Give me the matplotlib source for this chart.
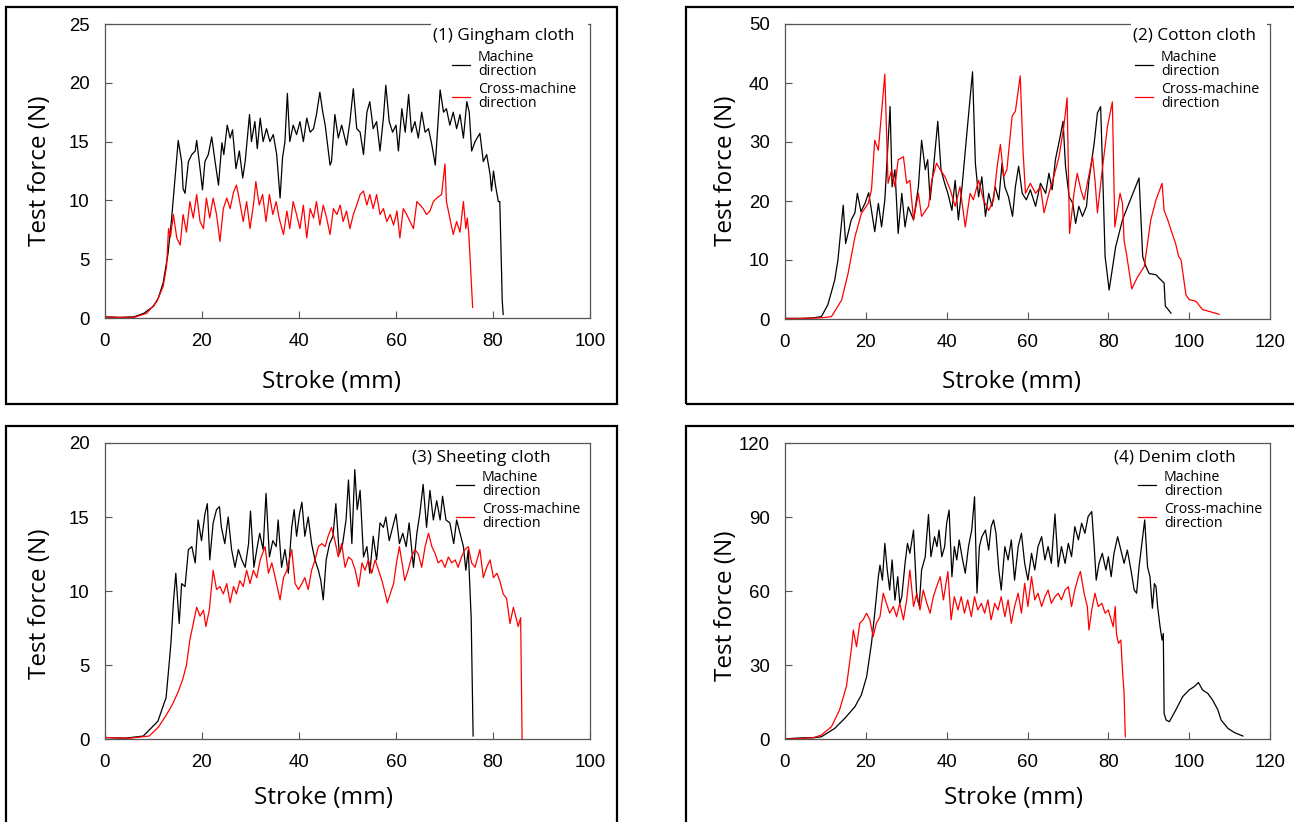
import numpy as np
import matplotlib
matplotlib.use("Agg")
import matplotlib.pyplot as plt
from matplotlib.patches import Rectangle

# ---------------- data (stroke mm, force N) ----------------
md1 = [(0,0.1),(3,0.05),(6,0.1),(8,0.4),(10,1.0),(11,1.7),(12,3.0),(13,5.5),(13.7,8.3),(14.4,11.7),
       (15.1,15.1),(15.8,13.3),(16.1,11.0),(16.5,10.6),(17.2,13.3),(17.9,13.9),(18.6,14.2),(18.9,15.1),
       (19.6,12.7),(20.1,10.9),(20.6,13.3),(21.3,13.9),(22.0,15.4),(22.7,13.3),(23.4,11.3),(24.1,14.9),
       (24.5,13.9),(25.2,16.4),(25.8,15.3),(26.3,16.0),(27.0,12.7),(27.7,14.2),(28.4,11.9),(28.9,13.3),
       (29.8,17.3),(30.2,15.0),(30.9,16.7),(31.4,14.4),(32.0,17.0),(32.6,15.0),(33.3,16.1),(34.0,15.0),
       (34.7,15.6),(35.4,13.9),(36.1,10.2),(36.6,13.6),(37.1,15.0),(37.6,19.1),(38.1,15.0),(38.8,16.4),
       (39.5,15.6),(40.2,16.7),(40.9,15.0),(41.6,17.0),(42.3,15.8),(43.0,16.1),(43.6,17.3),(44.3,19.2),
       (44.9,17.5),(45.4,16.4),(46.4,13.0),(46.7,13.3),(47.4,17.3),(48.1,15.3),(48.8,16.4),(49.8,14.7),
       (50.5,16.7),(51.2,19.5),(51.9,16.1),(52.6,15.8),(53.3,13.9),(54.0,17.5),(54.6,18.4),(55.3,16.1),
       (56.0,16.7),(56.7,14.2),(57.4,17.0),(57.9,19.8),(58.6,16.7),(59.3,15.8),(60.0,16.4),(60.5,14.2),
       (61.2,17.8),(61.9,15.8),(62.6,19.0),(63.2,15.8),(63.9,16.7),(64.6,15.3),(65.3,17.5),(66.0,15.8),
       (66.7,16.1),(67.4,14.7),(68.1,13.0),(69.1,19.4),(69.8,17.5),(70.4,17.8),(71.1,16.4),(71.8,17.5),
       (72.5,16.1),(73.2,17.3),(73.9,15.3),(74.6,18.4),(75.1,17.5),(75.6,14.2),(76.3,15.0),(77.3,15.7),
       (78.0,13.3),(78.7,13.9),(79.4,12.2),(79.7,10.8),(80.1,12.5),(80.5,11.3),(81.1,9.9),(81.4,9.9),
       (81.7,5.0),(81.9,1.5),(82.1,0.3)]
cd1 = [(0,0.1),(3,0.05),(6,0.05),(8.6,0.4),(10.7,1.4),(12.0,2.7),(12.7,4.4),(13.1,7.6),(13.5,6.9),
       (14.1,8.8),(14.8,6.8),(15.5,6.2),(16.1,8.8),(16.8,7.3),(17.5,9.9),(18.2,8.5),(18.9,10.5),(19.6,8.2),
       (20.3,7.6),(20.9,10.2),(21.6,8.5),(22.3,10.2),(23.0,8.8),(23.7,6.5),(24.4,9.3),(25.1,10.2),(25.8,9.3),
       (26.5,10.7),(27.1,11.3),(27.5,10.5),(27.9,9.6),(28.5,8.2),(29.2,9.9),(29.9,7.6),(30.6,9.6),(31.1,11.6),
       (31.8,9.6),(32.5,10.5),(33.2,8.2),(33.9,10.5),(34.6,8.8),(35.3,9.9),(35.9,8.5),(36.8,7.1),(37.5,9.1),
       (38.1,7.6),(38.8,9.9),(39.5,8.8),(40.2,7.6),(40.9,9.6),(41.6,6.8),(42.3,9.3),(43.0,8.5),(43.6,9.9),
       (44.3,7.9),(45.0,9.6),(45.7,8.5),(46.4,7.1),(47.1,9.3),(47.8,8.8),(48.5,9.6),(49.1,8.2),(49.8,9.1),
       (50.5,7.6),(51.2,8.8),(51.9,9.6),(52.6,10.5),(53.3,10.8),(54.0,9.6),(54.6,10.5),(55.3,9.3),(56.0,10.5),
       (56.7,8.8),(57.4,9.3),(58.1,8.2),(58.8,8.8),(59.5,7.9),(60.2,9.1),(60.8,6.8),(61.5,9.3),(62.2,8.8),
       (62.9,8.2),(63.6,7.6),(64.3,9.9),(65.0,9.6),(65.6,9.3),(66.3,8.8),(67.0,9.1),(67.7,9.9),(68.4,10.2),
       (69.4,10.5),(70.1,13.1),(70.4,9.9),(71.1,8.5),(71.8,7.1),(72.5,8.2),(73.2,7.3),(73.9,9.9),(74.4,7.6),
       (74.7,8.5),(75.0,7.2),(75.3,4.9),(75.8,0.9)]

md2 = [(0,0.1),(4,0.1),(7,0.2),(9.0,0.4),(10.6,2.4),(12.3,6.6),(13.1,10.0),(14.4,19.3),(15.0,12.8),
       (15.6,14.5),(16.4,16.8),(17.3,18.0),(17.9,21.3),(18.8,18.2),(19.8,19.6),(20.7,21.4),(21.4,18.4),
       (22.2,14.8),(23.1,19.6),(23.9,15.6),(24.7,20.2),(26.0,36.0),(26.5,22.4),(27.2,25.3),(28.0,14.5),
       (28.9,21.3),(29.7,15.6),(30.5,19.0),(31.8,16.8),(33.0,22.4),(33.8,30.3),(34.7,25.3),(35.3,27.0),
       (35.9,20.2),(36.7,25.3),(37.8,33.5),(38.6,25.3),(39.5,23.0),(40.3,21.3),(41.3,18.4),(42.1,23.5),
       (42.9,16.8),(43.8,22.4),(45.0,31.5),(46.4,41.9),(47.1,26.4),(47.9,20.7),(48.7,24.1),(49.6,17.4),
       (50.4,21.3),(51.2,19.1),(52.0,22.4),(52.9,20.2),(53.7,26.4),(54.4,22.4),(55.3,20.7),(56.3,17.4),
       (57.0,22.4),(57.8,25.9),(58.7,21.3),(59.7,20.2),(60.7,21.9),(62.0,19.1),(63.2,23.0),(64.5,21.3),
       (65.3,24.7),(66.1,21.9),(66.9,27.0),(67.9,30.3),(68.8,33.5),(69.4,25.9),(70.3,20.7),(71.2,19.6),
       (71.9,16.2),(72.7,19.1),(73.6,17.4),(74.6,19.1),(75.2,23.5),(76.5,29.8),(77.3,34.9),(78.1,36.0),
       (78.7,22.4),(79.2,10.6),(80.2,4.9),(81.8,12.2),(83.5,16.8),(85.1,19.6),(87.6,23.9),(88.5,10.6),
       (89.3,8.9),(90.1,7.7),(91.8,7.5),(92.6,6.9),(93.8,6.1),(94.1,2.2),(95.5,1.0)]
cd2 = [(0,0.1),(5,0.1),(9,0.2),(11.5,0.4),(14.0,3.2),(15.6,7.7),(17.3,13.9),(18.9,17.9),(20.6,19.6),
       (21.4,21.9),(22.2,30.3),(23.1,28.6),(24.7,41.5),(25.5,23.0),(26.4,25.3),(27.2,22.4),(28.0,27.0),
       (29.3,27.5),(30.1,23.0),(30.9,23.5),(31.8,16.8),(33.0,21.3),(33.8,17.4),(35.5,19.1),(36.3,23.5),
       (37.5,26.4),(38.4,25.3),(39.6,24.1),(40.9,21.9),(42.1,19.1),(43.3,22.4),(44.6,15.6),(45.8,21.3),
       (46.6,20.2),(47.9,23.5),(49.1,20.2),(50.4,18.4),(51.6,20.2),(52.5,25.9),(53.3,29.6),(54.1,24.1),
       (54.9,25.3),(56.2,34.4),(57.0,35.2),(58.2,41.2),(58.9,28.4),(59.5,21.3),(60.7,23.0),(62.0,21.3),
       (63.2,22.4),(64.1,18.0),(65.3,21.3),(66.5,24.1),(67.8,27.5),(69.0,32.7),(69.8,37.5),(70.4,14.5),
       (71.5,21.3),(72.3,24.7),(73.2,21.9),(74.0,20.2),(74.8,23.0),(76.1,27.5),(76.7,23.5),(77.3,18.0),
       (78.5,25.3),(79.8,32.7),(81.0,36.8),(81.6,15.6),(82.9,21.3),(83.5,19.6),(83.9,13.3),(84.5,11.0),
       (85.8,5.1),(87.2,7.1),(88.9,8.9),(90.5,16.8),(91.8,20.2),(93.3,23.0),(93.8,18.4),(94.7,16.8),
       (95.5,15.1),(96.6,12.9),(97.4,10.6),(98.0,10.0),(99.2,4.1),(100.0,3.3),(101.7,3.0),(103.3,1.6),
       (105.4,1.2),(107.4,0.8)]

md3 = [(0,0.1),(4,0.05),(7.9,0.2),(10.9,1.2),(12.6,2.8),(13.2,5.0),(13.6,6.5),(14.1,9.2),(14.6,11.2),
       (15.3,7.8),(15.8,10.5),(16.5,10.3),(17.2,12.8),(17.9,13.0),(18.6,11.9),(19.2,14.8),(19.9,13.4),
       (20.6,15.2),(21.1,15.9),(21.6,12.1),(22.3,14.6),(23.0,15.5),(23.6,15.7),(24.0,14.3),(24.7,13.2),
       (25.4,15.0),(26.1,12.8),(26.8,11.6),(27.5,12.8),(28.2,12.1),(28.9,11.6),(29.6,13.2),(30.0,15.4),
       (30.7,11.6),(31.4,13.0),(31.9,13.9),(32.6,12.8),(33.2,16.6),(33.9,12.3),(34.6,13.4),(35.3,13.0),
       (35.7,14.8),(36.4,11.6),(37.1,12.8),(37.8,11.2),(38.5,14.3),(39.0,15.5),(39.5,13.7),(40.1,15.2),
       (40.6,16.0),(41.2,13.7),(41.9,15.0),(42.6,13.2),(43.3,12.1),(44.0,11.4),(44.5,10.7),(45.0,9.4),
       (45.6,12.1),(46.3,13.2),(47.0,13.7),(47.6,15.9),(48.3,12.5),(49.0,13.2),(49.7,14.8),(50.2,17.5),
       (50.9,13.2),(51.5,18.2),(52.0,15.5),(52.6,16.8),(53.3,12.3),(54.0,13.0),(54.6,11.2),(55.3,13.7),
       (56.0,12.1),(56.7,14.6),(57.4,14.3),(57.9,15.0),(58.6,13.4),(59.3,14.3),(60.0,15.2),(60.7,13.2),
       (61.4,13.9),(62.1,13.0),(62.7,14.6),(63.6,11.6),(64.3,13.9),(64.9,15.2),(65.6,17.2),(66.3,14.3),
       (67.0,16.8),(67.7,14.8),(68.4,16.1),(69.1,14.8),(69.6,16.4),(70.3,14.8),(71.1,14.6),(71.9,13.2),
       (72.5,14.8),(73.2,13.9),(73.9,13.0),(74.4,11.4),(74.9,12.8),(75.5,8.2),(75.9,0.2)]
cd3 = [(0,0.1),(5,0.05),(9.1,0.2),(11.0,0.8),(12.6,1.6),(14.0,2.4),(15.1,3.2),(16.0,4.0),(16.8,5.0),
       (17.5,6.7),(18.2,7.8),(18.9,8.9),
       (19.6,8.3),(20.3,8.7),(20.8,7.6),(21.5,8.7),(22.3,11.4),(23.0,10.1),(23.7,10.3),(24.4,9.8),(25.1,10.5),
       (25.8,9.2),(26.5,10.3),(27.1,9.8),(27.8,10.7),(28.5,10.3),(29.2,11.4),(29.9,10.5),(30.6,11.4),
       (31.3,10.9),(32.0,12.1),(33.0,13.0),(33.7,11.2),(34.4,11.9),(35.1,10.9),(36.1,9.4),(36.8,10.9),
       (37.5,11.4),(38.5,12.8),(39.2,10.5),(39.9,10.1),(40.6,10.5),(41.2,10.9),(41.9,10.1),(42.6,11.4),
       (43.3,12.1),(44.0,13.0),(44.7,13.2),(45.4,13.0),(46.0,13.7),(46.7,14.3),(47.4,13.4),(48.1,12.3),
       (48.8,13.2),(49.5,11.6),(50.2,12.3),(50.9,12.1),(51.6,11.4),(52.3,10.3),(53.0,11.9),(53.6,11.4),
       (54.3,12.1),(55.0,11.2),(55.7,12.1),(56.4,11.4),(57.1,10.7),(57.8,9.8),(58.2,9.2),(58.8,9.8),
       (59.5,10.5),(60.1,11.9),(60.7,13.0),(61.4,11.6),(61.8,10.7),(62.5,11.4),(63.2,12.3),(63.9,12.8),
       (64.6,12.5),(65.3,11.6),(66.0,13.0),(66.7,13.9),(67.4,13.0),(68.1,12.5),(68.7,11.9),(69.4,12.1),
       (70.1,11.6),(70.8,12.3),(71.5,11.9),(72.2,12.1),(72.8,11.6),(73.5,12.3),(74.2,12.8),(74.9,13.0),
       (75.6,11.9),(76.3,11.6),(77.3,12.8),(78.0,10.9),(78.7,11.6),(79.4,12.1),(80.1,10.9),(80.8,11.2),
       (81.4,10.7),(82.1,9.8),(82.8,9.5),(83.5,7.8),(84.2,8.9),(84.9,8.0),(85.2,7.6),(85.7,8.2),(86.0,0.0)]

md4 = [(0,0.0),(2.2,0.3),(5,0.5),(7,0.5),(9.0,0.9),(12.3,4.3),(14.8,8.4),(17.3,13.1),(18.9,17.9),
       (20.2,25.3),(21.4,38.8),(22.2,50.9),(23.1,65.8),(23.5,70.5),(24.1,64.4),(24.7,79.3),(25.3,68.5),
       (25.9,60.4),(26.5,72.6),(27.2,56.3),(27.9,65.8),(28.4,55.0),(28.9,57.7),(29.7,71.2),(30.3,79.3),
       (30.9,75.3),(31.8,84.7),(32.6,57.7),(33.2,54.0),(33.8,68.5),(34.7,73.9),(35.0,80.7),(35.5,91.0),
       (36.1,73.9),(37.0,82.0),(37.6,78.0),(38.1,84.7),(38.8,73.9),(39.5,78.0),(40.0,87.5),(40.6,92.8),
       (41.3,65.8),(41.9,78.0),(42.5,72.6),(43.1,80.7),(43.8,73.9),(44.6,67.2),(45.4,78.0),(46.2,84.7),
       (46.9,98.2),(47.5,59.1),(48.1,78.0),(48.7,82.0),(49.6,84.7),(50.4,76.6),(51.0,86.1),(51.6,88.8),
       (52.2,83.4),(52.9,68.5),(53.5,60.4),(54.4,78.0),(55.2,72.6),(56.0,80.7),(56.8,64.4),(57.7,78.0),
       (58.5,83.4),(59.3,71.2),(60.1,64.4),(61.0,75.3),(61.8,68.5),(62.6,78.0),(63.5,82.0),(64.3,72.6),
       (65.1,78.0),(65.9,71.2),(66.8,91.2),(67.6,69.8),(68.4,78.0),(69.3,71.2),(70.1,79.3),(70.9,73.9),
       (71.7,86.1),(72.6,80.7),(73.4,87.5),(74.2,83.4),(75.0,90.2),(75.9,92.2),(76.5,78.0),(77.0,64.4),
       (77.7,71.2),(78.5,75.3),(79.4,68.5),(80.0,73.9),(80.7,65.8),(81.4,75.3),(82.3,82.0),(83.1,76.6),
       (83.9,71.2),(84.7,76.6),(85.6,68.5),(86.4,60.4),(87.0,59.1),(87.6,69.8),(88.3,79.3),(89.0,88.8),
       (89.7,69.8),(90.3,65.8),(90.9,53.0),(91.4,63.0),(91.8,61.7),(92.2,53.6),(92.8,45.5),(93.3,40.1),
       (93.6,42.8),(93.8,10.4),(94.3,7.7),(95.1,7.0),(96.7,11.8),(98.4,17.2),(100.0,19.9),(101.3,21.3),
       (102.3,22.9),(103.3,19.9),(104.6,18.5),(105.8,15.8),(107.1,11.8),(107.9,7.7),(109.6,4.3),
       (111.2,2.6),(113.3,1.2)]
cd4 = [(0,0.0),(4,0.2),(6.9,0.5),(9.0,1.6),(11.5,5.0),(13.5,11.8),(15.2,21.3),(16.4,36.1),(16.9,44.2),
       (17.7,37.4),(18.5,46.9),(19.3,48.3),(20.2,51.0),(21.0,48.3),(21.8,41.5),(22.6,46.9),(23.5,49.6),
       (24.3,59.1),(25.1,55.0),(25.9,51.0),(26.8,53.7),(27.6,49.6),(28.4,55.0),(29.3,48.3),(30.1,56.4),
       (30.9,68.5),(31.8,53.7),(32.6,59.1),(33.4,52.3),(34.2,60.4),(35.1,55.0),(35.9,51.0),(36.7,57.7),
       (37.5,61.7),(38.4,65.8),(39.2,56.4),(40.3,67.9),(41.1,48.3),(41.9,57.7),(42.8,52.3),(43.6,57.7),
       (44.4,51.0),(45.2,56.4),(46.1,49.6),(46.9,57.7),(47.7,52.3),(48.6,55.0),(49.4,51.0),(50.2,56.4),
       (51.0,48.3),(51.9,55.0),(52.7,52.3),(53.5,57.7),(54.4,49.6),(55.2,56.4),(56.0,46.9),(56.8,53.7),
       (57.7,59.1),(58.5,51.0),(59.3,63.1),(60.1,53.7),(61.0,65.8),(61.8,56.4),(62.6,59.1),(63.5,53.7),
       (64.3,57.7),(65.1,60.4),(65.9,55.0),(66.8,57.7),(67.6,59.1),(68.4,56.4),(69.3,60.4),(70.1,61.7),
       (70.9,53.7),(71.7,60.4),(72.6,65.8),(73.1,67.9),(74.0,59.1),(74.8,53.7),(75.2,44.2),(75.9,52.3),
       (76.7,59.1),(77.5,53.7),(78.4,55.0),(79.2,51.0),(80.0,52.3),(80.7,48.3),(81.2,45.5),(81.7,53.7),
       (82.0,42.8),(82.5,38.8),(83.1,40.1),(83.5,27.9),(83.9,18.4),(84.2,0.9)]

titles = ["(1) Gingham cloth", "(2) Cotton cloth", "(3) Sheeting cloth", "(4) Denim cloth"]
series_labels = ["Machine\ndirection", "Cross-machine\ndirection"]
x_ticks = [list(range(0, 101, 20)), list(range(0, 121, 20)), list(range(0, 101, 20)), list(range(0, 121, 20))]
y_ticks = [list(range(0, 26, 5)), list(range(0, 51, 10)), list(range(0, 21, 5)), list(range(0, 121, 30))]
curves = [(md1, cd1), (md2, cd2), (md3, cd3), (md4, cd4)]

# ---------------- layout (pixels) ----------------
W, H = 1294, 822
plt.rcParams['font.family'] = ['Liberation Sans', 'DejaVu Sans']
fig = plt.figure(figsize=(W / 100, H / 100), dpi=100)

frames = [(6, 7, 617, 404), (686, 7, 1310, 404), (6, 426, 617, 840), (686, 426, 1310, 840)]
boxes = [(105, 24, 590, 318), (785, 24, 1270, 319), (105, 443, 590, 739), (785, 443, 1270, 739)]
title_pos = [(433, 36), (1133, 36), (412, 458), (1114, 458)]
legend_pos = [(452, 50), (1135, 50), (456, 470), (1138, 470)]
white_box = [(431, 19, 588, 47), (1131, 19, 1267, 47), None, None]
ylabel_pos = [(40, 171), (726, 171), (40, 604), (726, 606)]
xlabel_pos = [(331, 382), (1011, 382), (324, 798), (1014, 798)]

for fr in frames:
    l, t, r, b = fr
    fig.add_artist(Rectangle((l / W, 1 - b / H), (r - l) / W, (b - t) / H,
                             transform=fig.transFigure, fill=False, ec='black', lw=1.6))

lab_font = 'Open Sans'
for i in range(4):
    l, t, r, b = boxes[i]
    ax = fig.add_axes([l / W, 1 - b / H, (r - l) / W, (b - t) / H])

    def fx(px):
        return (px - l) / (r - l)

    def fy(py):
        return (b - py) / (b - t)

    md, cd = curves[i]
    mx, my = np.array(md).T
    cx, cy = np.array(cd).T
    ax.plot(mx, my, color='black', lw=0.9, label=series_labels[0])
    ax.plot(cx, cy, color='#ff0000', lw=0.9, label=series_labels[1])

    ax.set_xlim(x_ticks[i][0], x_ticks[i][-1])
    ax.set_ylim(y_ticks[i][0], y_ticks[i][-1])
    ax.set_xticks(x_ticks[i])
    ax.set_yticks(y_ticks[i])
    ax.tick_params(direction='in', length=5, width=0.8, color='#555555', pad=11,
                   labelsize=13.4, labelcolor='black')
    for s in ax.spines.values():
        s.set_color('#555555')
        s.set_linewidth(0.9)

    ax.set_ylabel('Test force (N)', fontsize=17.5, family=lab_font)
    ax.yaxis.set_label_coords(fx(ylabel_pos[i][0]), fy(ylabel_pos[i][1]))
    ax.set_xlabel('Stroke (mm)', fontsize=17.5, family=lab_font)
    ax.xaxis.set_label_coords(fx(xlabel_pos[i][0]), fy(xlabel_pos[i][1]))
    ax.xaxis.label.set_va('center')
    ax.yaxis.label.set_va('center')

    if white_box[i] is not None:
        wl, wt, wr, wb = white_box[i]
        ax.add_patch(Rectangle((fx(wl), fy(wb)), fx(wr) - fx(wl), fy(wt) - fy(wb),
                               transform=ax.transAxes, fc='white', ec='none',
                               clip_on=False, zorder=3))
    ax.text(fx(title_pos[i][0]), fy(title_pos[i][1]), titles[i], transform=ax.transAxes,
            ha='left', va='center', fontsize=12.3, family=lab_font, zorder=4)
    leg = ax.legend(loc='upper left', bbox_to_anchor=(fx(legend_pos[i][0]), fy(legend_pos[i][1])),
                    frameon=False, borderpad=0, borderaxespad=0, handlelength=1.27,
                    handletextpad=0.55, labelspacing=0.15,
                    prop={'family': lab_font, 'size': 10.2})
    for txt in leg.get_texts():
        txt.set_linespacing(0.95)
    leg.set_zorder(4)

fig.savefig('out.png', dpi=100)
